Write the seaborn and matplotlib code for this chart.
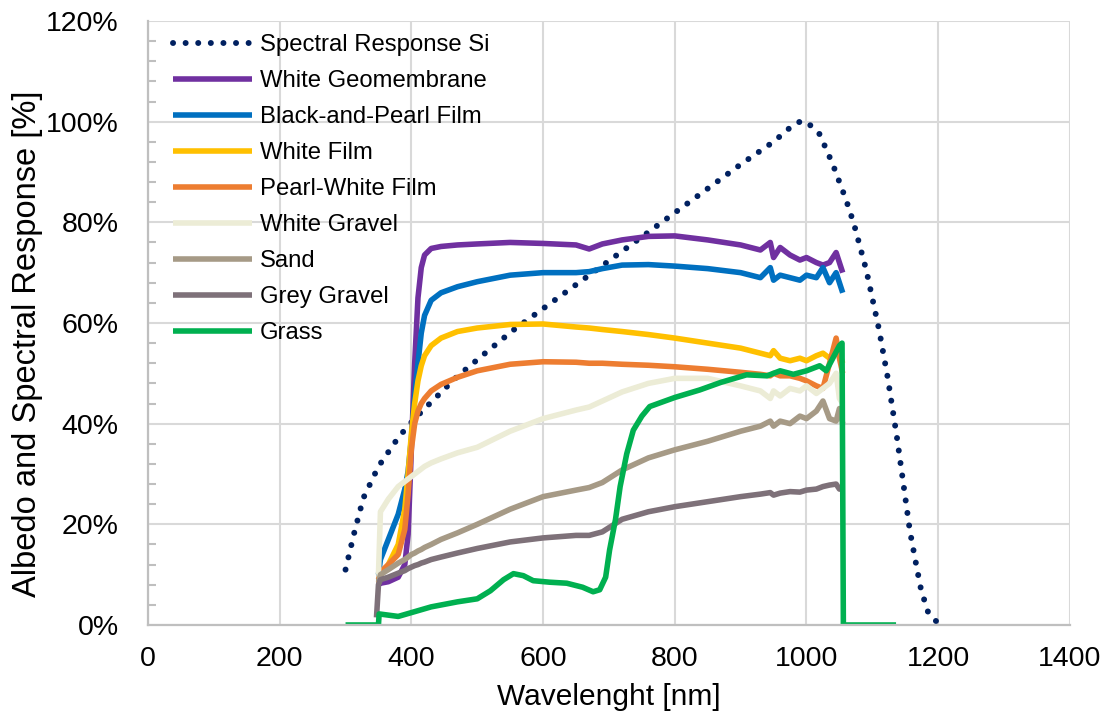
import matplotlib
matplotlib.use("Agg")
import matplotlib.pyplot as plt
import seaborn as sns
import pandas as pd
from matplotlib.ticker import MultipleLocator, PercentFormatter

# Spectral response of Si (dotted)
si_nm = [300, 313, 327, 350, 381, 405, 431, 469, 512, 554, 650, 750, 850, 900, 950, 975,
         990, 1000, 1020, 1040, 1060, 1072, 1091, 1110, 1123, 1137, 1147, 1157, 1167,
         1174, 1185, 1198]
si_resp = [11, 18.2, 25.2, 31.5, 37.4, 41, 44.4, 49.3, 54, 58.5, 67.6, 77.1, 86.7, 91.5,
           96, 98.8, 100, 100, 97.5, 91.5, 84.5, 79.7, 70.4, 58.8, 49.4, 37.6, 28.2, 18.7,
           11.7, 7.0, 2.4, 0.6]

# common wavelength grid of the albedo measurements
nm = [347, 350, 353, 365, 380, 390, 395, 400, 405, 410, 415, 420, 430, 445, 470, 500, 550,
      600, 650, 670, 690, 720, 760, 800, 850, 900, 930, 945, 950, 960, 975, 990, 1000,
      1015, 1025, 1035, 1045, 1050, 1055]

white_geomembrane = [8, 8, 8.3, 8.6, 9.5, 12, 18, 35, 52, 65, 71, 73.5, 74.8, 75.2, 75.5,
                     75.7, 76, 75.8, 75.5, 74.7, 75.7, 76.5, 77.2, 77.3, 76.5, 75.5, 74.5,
                     76, 73, 75, 73.5, 72.5, 73, 72, 71.5, 72, 74, 72, 70]
black_pearl_film = [10, 10, 13, 17, 22, 27, 30.5, 37, 45.5, 52, 58, 61.5, 64.5, 66, 67.2,
                    68.2, 69.5, 70, 70, 70.2, 70.8, 71.5, 71.6, 71.3, 70.8, 70, 69, 71,
                    68.5, 69.5, 69, 68.5, 69.5, 69, 71, 68, 70, 68, 66]
white_film = [9, 9, 10, 12, 16, 23, 30, 38, 44, 48.5, 51.5, 53.5, 55.5, 57, 58.3, 59, 59.7,
              59.8, 59.2, 59, 58.7, 58.3, 57.7, 57, 56, 55, 54, 53.5, 54.5, 53, 52.5, 53,
              52.5, 53.5, 54, 53, 55, 54, 52]
pearl_white_film = [9, 9, 10.5, 12, 14, 19, 26, 35, 40, 42.5, 44, 45, 46.5, 47.8, 49.2, 50.5,
                    51.8, 52.3, 52.2, 52, 52, 51.8, 51.6, 51.3, 50.8, 50.2, 49.8, 49.5, 50,
                    49.5, 49.5, 49, 48.5, 47.5, 47, 52, 57, 53, 50]
white_gravel = [10, 10, 22.5, 25, 27.5, 28.5, 29, 29.5, 30, 30.5, 31, 31.5, 32.2, 33, 34.2,
                35.3, 38.5, 41, 42.7, 43.3, 44.5, 46.3, 48, 49, 49, 47.5, 46.5, 45, 46.5,
                45.5, 47, 46.5, 47.5, 46, 47, 48, 50, 45, 44]
sand = [8.5, 8.5, 10, 11, 12.3, 13, 13.5, 14, 14.3, 14.7, 15, 15.4, 16, 17, 18.3, 20, 23,
        25.5, 26.8, 27.3, 28.3, 30.8, 33.2, 34.8, 36.5, 38.5, 39.5, 40.5, 39.5, 40.5, 40,
        41.5, 41, 42.5, 44.5, 41, 40.5, 43, 40]
grey_gravel = [1.5, 8, 9, 9.5, 10.3, 10.8, 11.2, 11.5, 11.8, 12, 12.3, 12.5, 13, 13.5, 14.3,
               15.2, 16.5, 17.3, 17.8, 17.8, 18.5, 21, 22.5, 23.5, 24.5, 25.5, 26, 26.3,
               25.8, 26.2, 26.5, 26.4, 26.8, 27, 27.5, 27.8, 28, 27, 27]

grass_nm = [300, 350, 351, 380, 430, 470, 500, 520, 540, 555, 570, 585, 610, 636, 660, 676,
            686, 695, 701, 710, 717, 727, 737, 750, 762, 800, 838, 870, 909, 940, 960, 980,
            1000, 1020, 1030, 1040, 1050, 1054, 1056, 1136]
grass = [0, 0, 2.2, 1.7, 3.6, 4.6, 5.2, 6.8, 9.0, 10.2, 9.8, 8.8, 8.5, 8.3, 7.5, 6.6, 7.0,
         9.5, 14.9, 21, 27.5, 34, 38.7, 41.5, 43.4, 45.2, 46.7, 48.2, 49.7, 49.5, 50.5, 49.8,
         50.5, 51.5, 50.5, 53, 55.5, 56, 0, 0]

series = [
    ("White Geomembrane", nm, white_geomembrane, "#7030A0"),
    ("Black-and-Pearl Film", nm, black_pearl_film, "#0070C0"),
    ("White Film", nm, white_film, "#FFC000"),
    ("Pearl-White Film", nm, pearl_white_film, "#ED7D31"),
    ("White Gravel", nm, white_gravel, "#ECECD6"),
    ("Sand", nm, sand, "#A69A86"),
    ("Grey Gravel", nm, grey_gravel, "#7E7179"),
    ("Grass", grass_nm, grass, "#00B050"),
]

sns.set_theme(style="whitegrid")
plt.rcParams['font.family'] = ['Liberation Sans', 'DejaVu Sans']
plt.rcParams['text.color'] = 'black'
plt.rcParams['axes.labelcolor'] = 'black'

fig = plt.figure(figsize=(11.11, 7.28), dpi=100)
ax = fig.add_axes([0.1332, 0.1415, 0.8298, 0.8297])

sns.lineplot(x=si_nm, y=si_resp, ax=ax, color="#002060", lw=4.3,
             linestyle=(0, (0.01, 2.1)), dash_capstyle="round",
             label="Spectral Response Si", estimator=None, sort=False)
for name, xs, ys, col in series:
    sns.lineplot(x=xs, y=ys, ax=ax, color=col, lw=4, label=name,
                 estimator=None, sort=False, solid_capstyle="butt")

ax.set_xlim(0, 1400)
ax.set_ylim(0, 120)
ax.xaxis.set_major_locator(MultipleLocator(200))
ax.yaxis.set_major_locator(MultipleLocator(20))
ax.yaxis.set_minor_locator(MultipleLocator(4))
ax.yaxis.set_major_formatter(PercentFormatter(decimals=0))

ax.grid(True, which="major", color="#D9D9D9", lw=1.5)
for side in ["top", "right"]:
    ax.spines[side].set_visible(False)
for side in ["left", "bottom"]:
    ax.spines[side].set_color("#BFBFBF")
    ax.spines[side].set_linewidth(1.6)

ax.tick_params(axis="both", which="major", length=0, labelsize=20.5, colors="black")
ax.tick_params(axis="x", pad=15)
ax.tick_params(axis="y", pad=21)
ax.tick_params(axis="y", which="minor", left=True, direction="in", length=6,
               width=1.5, color="#BFBFBF")

ax.set_xlabel("Wavelenght [nm]", fontsize=21.5, labelpad=8)
ax.set_ylabel("Albedo and Spectral Response [%]", fontsize=23.5, labelpad=2, y=0.465)

ax.legend(loc="upper left", bbox_to_anchor=(0.027, 0.978), frameon=False,
          fontsize=17.2, handlelength=3.3, handletextpad=0.33, labelspacing=0.585,
          borderaxespad=0, borderpad=0)

fig.savefig("out.png", dpi=100)
